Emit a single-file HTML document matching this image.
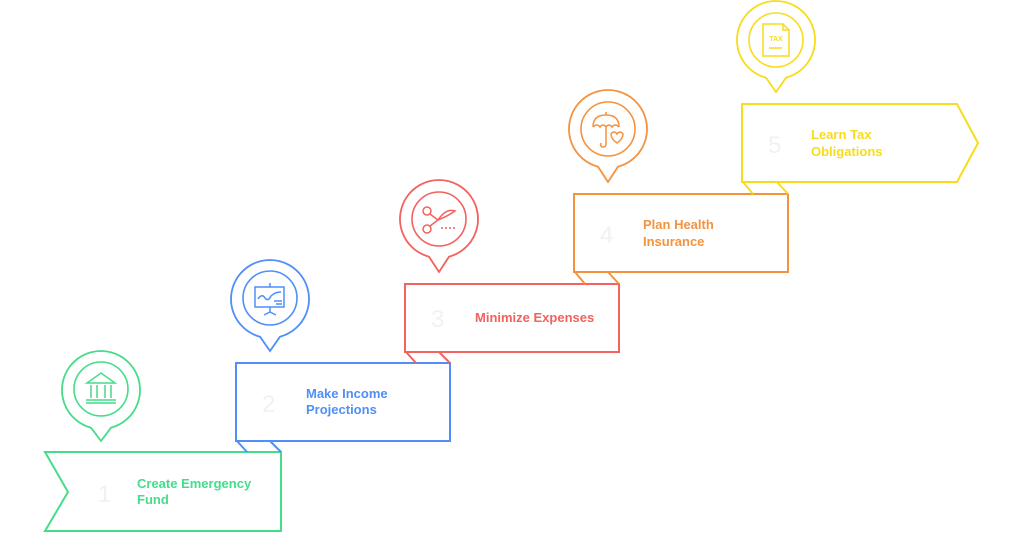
<!DOCTYPE html>
<html><head><meta charset="utf-8"><style>
html,body{margin:0;padding:0;background:#fff;}
svg{display:block}
text{font-family:"Liberation Sans",Arial,sans-serif;font-weight:bold;font-size:13px}
.n{font-weight:normal;font-size:24px;fill:#f0f2f2}
</style></head><body>
<svg width="1024" height="540" viewBox="0 0 1024 540" xmlns="http://www.w3.org/2000/svg" fill="none" stroke-width="2">
<!-- Box 1 green -->
<g stroke="#45dc8a">
<path d="M45 452 H281 V531 H45 L68 492 Z"/>
<path d="M101 441 L91 427.7 A39 39 0 1 1 111 427.7 Z" stroke-width="1.8"/>
<circle cx="101" cy="389" r="27" stroke-width="1.6"/>
<g stroke-width="1.5"><path d="M87 383 L101 373 L115 383 Z"/><path d="M91 385 V398 M97 385 V398 M105 385 V398 M111 385 V398 M86 400 H116 M86 403 H116"/></g>
</g>
<text x="98" y="502" class="n">1</text>
<text x="137" y="488" fill="#45dc8a">Create Emergency</text>
<text x="137" y="504" fill="#45dc8a">Fund</text>

<!-- Box 2 blue -->
<g stroke="#4f8ff7">
<path d="M236 363 H450 V441 H236 Z"/>
<path d="M237 441 L247 452 M270 441 L281 452"/>
<path d="M270 351 L260 336.7 A39 39 0 1 1 280 336.7 Z" stroke-width="1.8"/>
<circle cx="270" cy="298" r="27" stroke-width="1.6"/>
<g stroke-width="1.5"><rect x="255" y="287" width="29" height="20"/><path d="M270 283 V287 M270 307 V312 M264 315 L270 312 L276 315 M258 299 Q262 293 265 298 Q268 302 271 296 Q275 292 281 292 M274 301 H282 M276 304 H282"/></g>
</g>
<text x="262" y="412" class="n">2</text>
<text x="306" y="398" fill="#4f8ff7">Make Income</text>
<text x="306" y="414" fill="#4f8ff7">Projections</text>

<!-- Box 3 red -->
<g stroke="#f2625e">
<path d="M405 284 H619 V352 H405 Z"/>
<path d="M406 352 L416 363 M439 352 L450 363"/>
<path d="M439 272 L429 256.7 A39 39 0 1 1 449 256.7 Z" stroke-width="1.8"/>
<circle cx="439" cy="219" r="27" stroke-width="1.6"/>
<g stroke-width="1.5"><circle cx="427" cy="211" r="4"/><circle cx="427" cy="229" r="4"/><path d="M430 214 L438 220 L430 226 M438 220 Q446 208 455 211 Q448 216 438 220"/><path d="M441 228 H456" stroke-dasharray="2 2"/></g>
</g>
<text x="431" y="327" class="n">3</text>
<text x="475" y="322" fill="#f2625e">Minimize Expenses</text>

<!-- Box 4 orange -->
<g stroke="#f5923e">
<path d="M574 194 H788 V272 H574 Z"/>
<path d="M575 272 L585 284 M608 272 L619 284"/>
<path d="M608 182 L598 166.7 A39 39 0 1 1 618 166.7 Z" stroke-width="1.8"/>
<circle cx="608" cy="129" r="27" stroke-width="1.6"/>
<g stroke-width="1.5"><path d="M593 127 Q593 115 606 115 Q619 115 619 127 M593 127 Q597 123 600 127 Q603 123 606 127 Q609 123 612 127 Q615 123 619 127 M606 115 V112 M606 127 V144 Q606 147 603 147 Q600 147 601 143 M611 134 Q614 130 617 134 Q620 130 623 134 Q623 139 617 143 Q611 139 611 134 Z"/></g>
</g>
<text x="600" y="243" class="n">4</text>
<text x="643" y="229" fill="#f5923e">Plan Health</text>
<text x="643" y="246" fill="#f5923e">Insurance</text>

<!-- Box 5 yellow -->
<g stroke="#f7dc1c">
<path d="M742 104 H957 L978 143 L957 182 H742 Z"/>
<path d="M743 182 L753 194 M777 182 L788 194"/>
<path d="M776 92 L766 77.7 A39 39 0 1 1 786 77.7 Z" stroke-width="1.8"/>
<circle cx="776" cy="40" r="27" stroke-width="1.6"/>
<g stroke-width="1.5"><path d="M763 24 H783 L789 30 V56 H763 Z M783 24 V30 H789 M769 48 H782"/></g>
</g>
<text x="776" y="41" fill="#f7dc1c" text-anchor="middle" style="font-size:7px">TAX</text>
<text x="768" y="153" class="n">5</text>
<text x="811" y="139" fill="#f7dc1c">Learn Tax</text>
<text x="811" y="156" fill="#f7dc1c">Obligations</text>
</svg>
</body></html>
